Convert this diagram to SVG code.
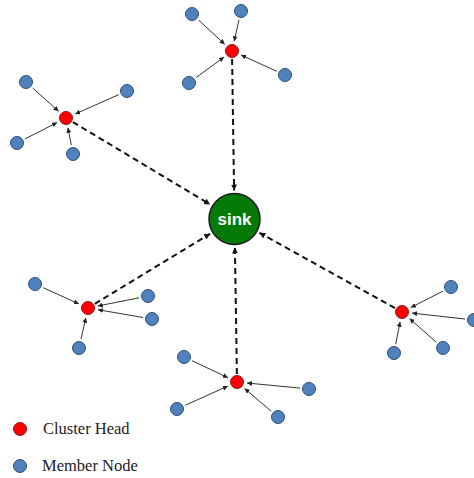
<svg xmlns="http://www.w3.org/2000/svg" width="474" height="478" viewBox="0 0 474 478">
<defs>
<style>
.m{fill:#4F81BD;stroke:#2F4F74;stroke-width:1}
.ch{fill:#FF0000;stroke:#8B1A1A;stroke-width:1}
.sink{fill:#067A06;stroke:#1a1a1a;stroke-width:1.5}
.ml{stroke:#333;stroke-width:1;fill:none;marker-end:url(#sa)}
.dl{stroke:#111;stroke-width:2;stroke-dasharray:6 4;fill:none;marker-end:url(#da)}
.lg{font-family:"Liberation Serif","Times New Roman",serif;font-size:16.5px;fill:#222}
.st{font-family:"Liberation Sans",Arial,sans-serif;font-size:17px;font-weight:bold;fill:#fff}
</style>
<marker id="sa" markerUnits="userSpaceOnUse" markerWidth="6" markerHeight="6" refX="5" refY="2.5" orient="auto"><path d="M0,0 L5,2.5 L0,5 z" fill="#222"/></marker>
<marker id="da" markerUnits="userSpaceOnUse" markerWidth="7" markerHeight="7" refX="6" refY="3" orient="auto"><path d="M0,0 L6,3 L0,6 z" fill="#111"/></marker>
</defs>
<rect width="474" height="478" fill="#fff"/>
<g id="connectors">
<line class="dl" x1="232.1" y1="59" x2="234.1" y2="190.5"/>
<line class="dl" x1="72.9" y1="122.1" x2="210.1" y2="204.4"/>
<line class="dl" x1="94.8" y1="303.8" x2="210.1" y2="233.8"/>
<line class="dl" x1="236.9" y1="374" x2="234.9" y2="247.5"/>
<line class="dl" x1="395" y1="308.1" x2="259.4" y2="232.8"/>
<line class="ml" x1="198.6" y1="20.1" x2="224.7" y2="44.2"/>
<line class="ml" x1="239" y1="19.8" x2="234.2" y2="41.2"/>
<line class="ml" x1="196.2" y1="77.6" x2="224" y2="57"/>
<line class="ml" x1="276.8" y1="71.3" x2="241.1" y2="55.1"/>
<line class="ml" x1="32.7" y1="88" x2="58.6" y2="111.3"/>
<line class="ml" x1="118.8" y1="94.6" x2="75.2" y2="114"/>
<line class="ml" x1="25" y1="138.9" x2="57.1" y2="122.6"/>
<line class="ml" x1="71.3" y1="145.2" x2="67.9" y2="127.8"/>
<line class="ml" x1="43.2" y1="287.7" x2="78.9" y2="303.9"/>
<line class="ml" x1="139.2" y1="297.8" x2="97.8" y2="306"/>
<line class="ml" x1="143.1" y1="317.5" x2="97.9" y2="309.7"/>
<line class="ml" x1="81" y1="339.2" x2="85.8" y2="317.8"/>
<line class="ml" x1="192.1" y1="360.8" x2="228" y2="377.7"/>
<line class="ml" x1="300" y1="388.1" x2="247" y2="383"/>
<line class="ml" x1="185.2" y1="405.3" x2="227.9" y2="386.1"/>
<line class="ml" x1="271.2" y1="411.2" x2="244.6" y2="388.5"/>
<line class="ml" x1="443" y1="291.1" x2="410.9" y2="307.5"/>
<line class="ml" x1="465" y1="319" x2="412" y2="313.1"/>
<line class="ml" x1="436.2" y1="342.1" x2="409.5" y2="318.6"/>
<line class="ml" x1="395.7" y1="344.2" x2="400.1" y2="321.8"/>
</g>
<g id="sink"><circle class="sink" cx="234.5" cy="219" r="25.5"/><text class="st" x="234.5" y="224.5" text-anchor="middle">sink</text></g>
<g id="ch-top"><circle class="ch" cx="232" cy="51" r="6.5"/></g>
<g id="ch-left"><circle class="ch" cx="66" cy="118" r="6.5"/></g>
<g id="ch-leftbottom"><circle class="ch" cx="88" cy="308" r="6.5"/></g>
<g id="ch-bottom"><circle class="ch" cx="237" cy="382" r="6.5"/></g>
<g id="ch-right"><circle class="ch" cx="402" cy="312" r="6.5"/></g>
<g id="members">
<circle class="m" cx="192" cy="14" r="6.5"/>
<circle class="m" cx="241" cy="11" r="6.5"/>
<circle class="m" cx="189" cy="83" r="6.5"/>
<circle class="m" cx="285" cy="75" r="6.5"/>
<circle class="m" cx="26" cy="82" r="6.5"/>
<circle class="m" cx="127" cy="91" r="6.5"/>
<circle class="m" cx="17" cy="143" r="6.5"/>
<circle class="m" cx="73" cy="154" r="6.5"/>
<circle class="m" cx="35" cy="284" r="6.5"/>
<circle class="m" cx="148" cy="296" r="6.5"/>
<circle class="m" cx="152" cy="319" r="6.5"/>
<circle class="m" cx="79" cy="348" r="6.5"/>
<circle class="m" cx="184" cy="357" r="6.5"/>
<circle class="m" cx="309" cy="389" r="6.5"/>
<circle class="m" cx="177" cy="409" r="6.5"/>
<circle class="m" cx="278" cy="417" r="6.5"/>
<circle class="m" cx="451" cy="287" r="6.5"/>
<circle class="m" cx="474" cy="320" r="6.5"/>
<circle class="m" cx="443" cy="348" r="6.5"/>
<circle class="m" cx="394" cy="353" r="6.5"/>
</g>
<g id="legend">
<circle class="ch" cx="20" cy="429" r="6.5"/>
<text class="lg" x="43" y="433.5">Cluster Head</text>
<circle class="m" cx="20" cy="466" r="6.5"/>
<text class="lg" x="42" y="470.5">Member Node</text>
</g>
</svg>
